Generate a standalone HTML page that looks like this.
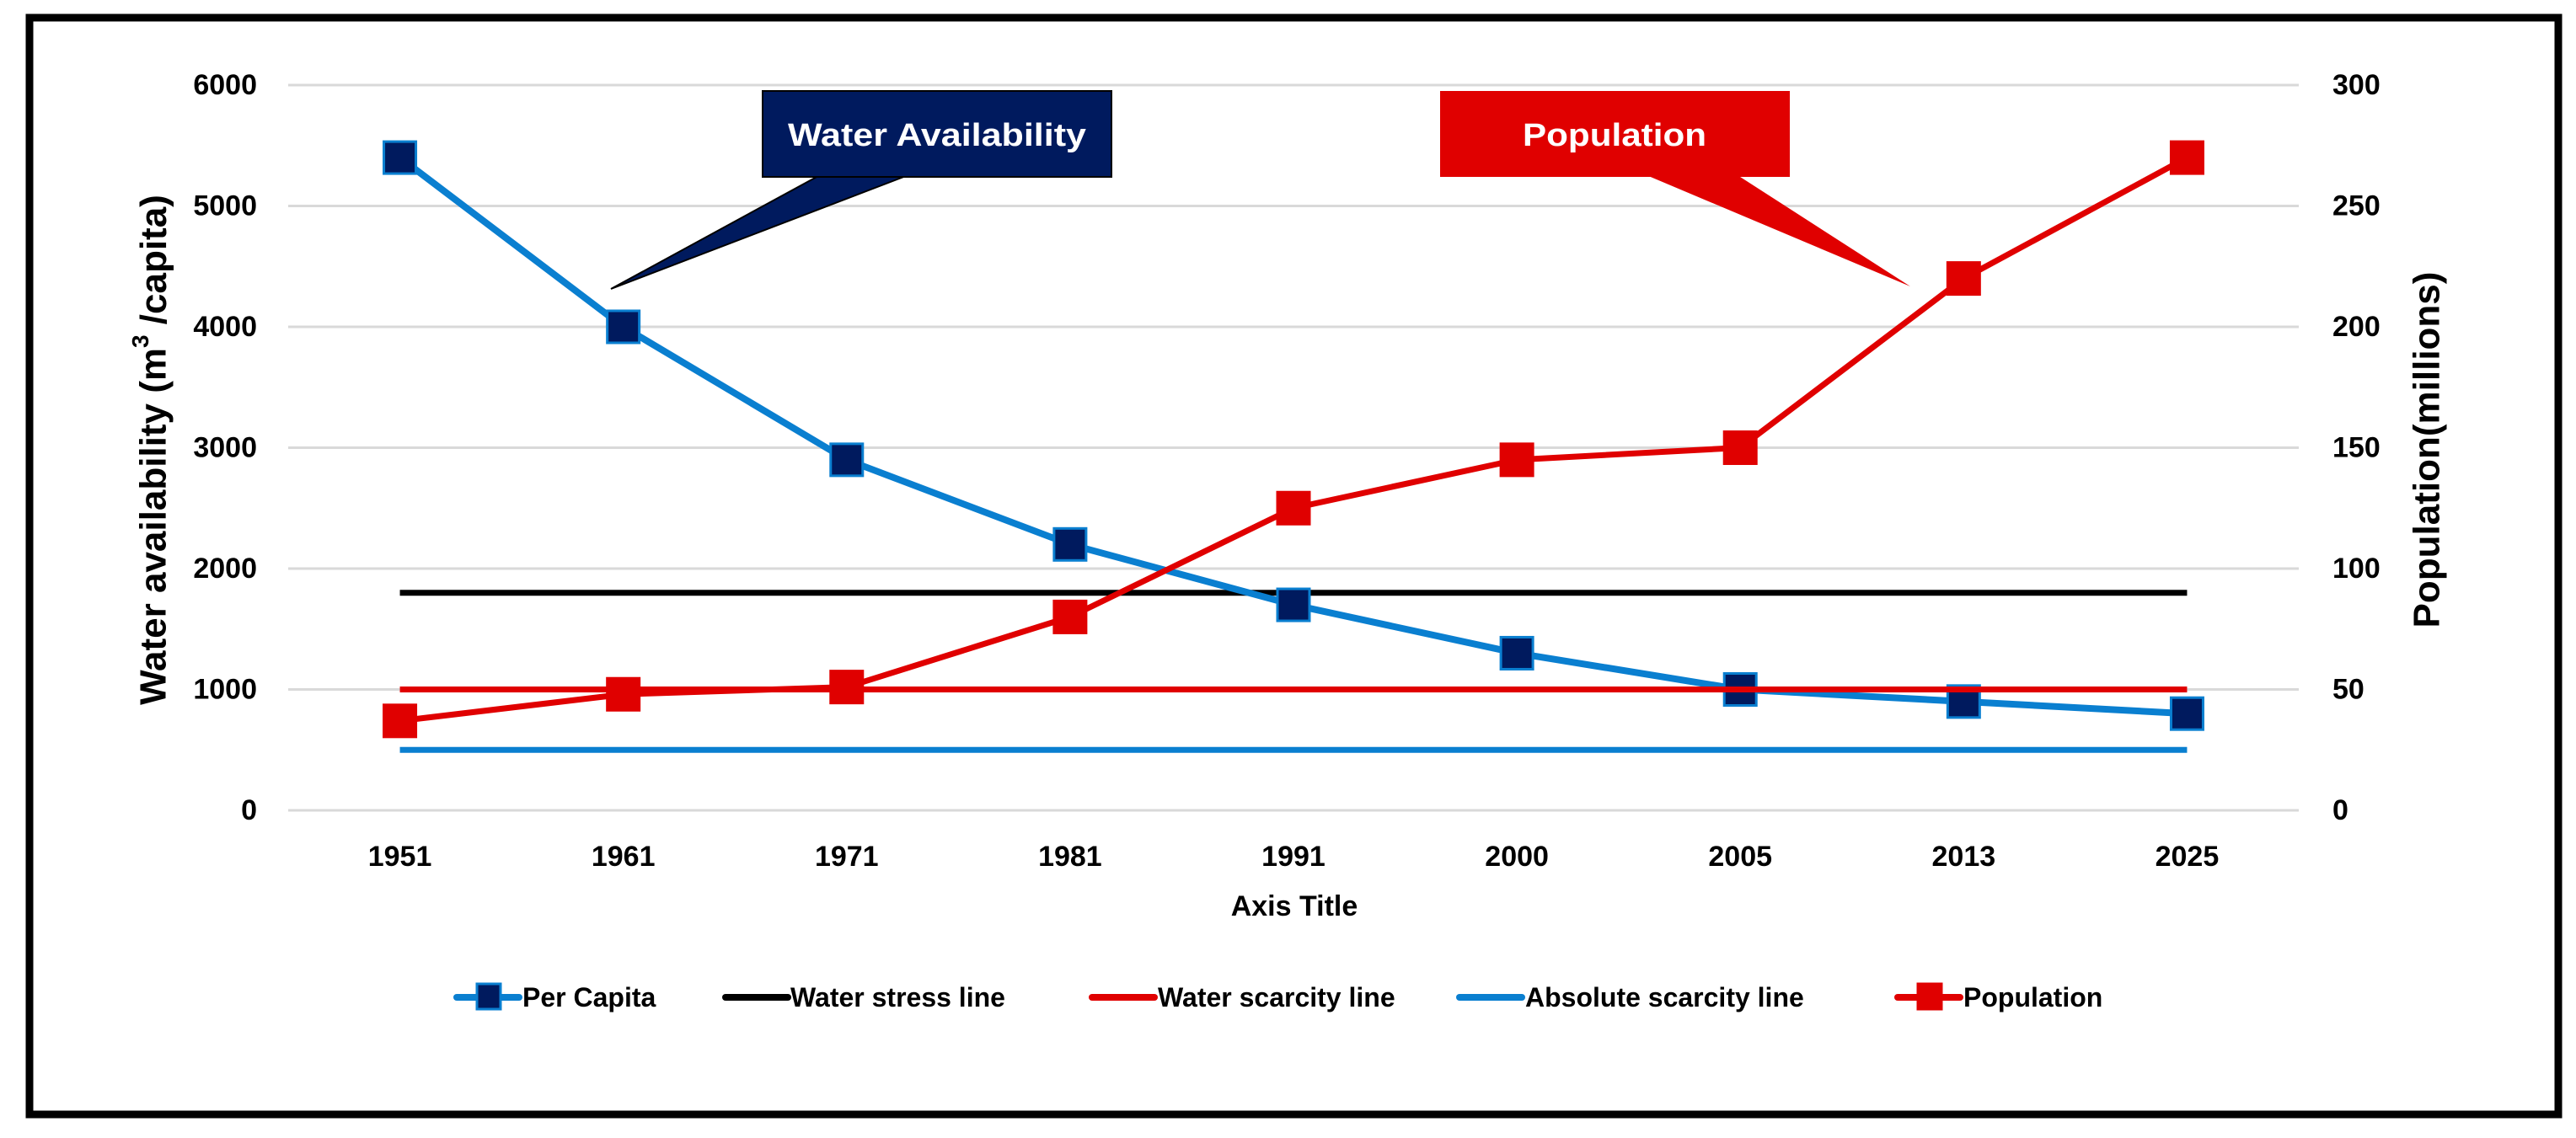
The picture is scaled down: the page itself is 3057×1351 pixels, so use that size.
<!DOCTYPE html>
<html><head><meta charset="utf-8"><style>
html,body{margin:0;padding:0;background:#fff;}
svg{display:block;font-family:"Liberation Sans",sans-serif;}
</style></head><body>
<svg id="chart" width="3057" height="1351" viewBox="0 0 3057 1351">
<rect x="35" y="21" width="3001" height="1302" fill="#fff" stroke="#000" stroke-width="9"/>
<g id="grid"></g>
<g id="lines"></g>
<g id="ticks"></g>
<text x="182" y="534" transform="rotate(-90 182 534)" text-anchor="middle" dominant-baseline="central" font-size="44" font-weight="bold" fill="#000">Water availability (m<tspan font-size="28" dy="-16">3</tspan><tspan dy="16"> /capita)</tspan></text>
<text x="2880" y="534" transform="rotate(-90 2880 534)" text-anchor="middle" dominant-baseline="central" font-size="44" font-weight="bold" fill="#000">Population(millions)</text>
<text x="1536" y="1076" text-anchor="middle" dominant-baseline="central" font-size="34" font-weight="bold" fill="#000">Axis Title</text>
<g>
<polygon points="971,209 725,343 1075,209" fill="#001a5e" stroke="#000" stroke-width="2"/>
<rect x="905" y="108" width="414" height="102" fill="#001a5e" stroke="#000" stroke-width="2"/>
<text x="1112" y="161" text-anchor="middle" dominant-baseline="central" font-size="38" font-weight="bold" fill="#fff" textLength="354" lengthAdjust="spacingAndGlyphs">Water Availability</text>
</g>
<g>
<polygon points="1954,208 2267,340 2062,208" fill="#e00000"/>
<rect x="1709" y="108" width="415" height="102" fill="#e00000"/>
<text x="1916" y="161" text-anchor="middle" dominant-baseline="central" font-size="38" font-weight="bold" fill="#fff" textLength="218" lengthAdjust="spacingAndGlyphs">Population</text>
</g>
<g id="legend"></g>
</svg>
<script>
const categories = ["1951","1961","1971","1981","1991","2000","2005","2013","2025"];
const perCapita = [5400,4000,2900,2200,1700,1300,1000,900,800];
const population = [37,48,51,80,125,145,150,220,270];
const waterStress = [1800,1800,1800,1800,1800,1800,1800,1800,1800];
const waterScarcity = [1000,1000,1000,1000,1000,1000,1000,1000,1000];
const absoluteScarcity = [500,500,500,500,500,500,500,500,500];
const leftTicks = [0,1000,2000,3000,4000,5000,6000];
const rightTicks = [0,50,100,150,200,250,300];

const NS = "http://www.w3.org/2000/svg";
const plotL = 342, plotR = 2728, y0 = 962, yTop = 101;
const step = (plotR - plotL) / categories.length;
const xAt = i => plotL + step * (i + 0.5);
const yL = v => y0 - (v / 6000) * (y0 - yTop);
const yR = v => y0 - (v / 300) * (y0 - yTop);
function mk(tag, attrs, parent) {
  const e = document.createElementNS(NS, tag);
  for (const k in attrs) e.setAttribute(k, attrs[k]);
  parent.appendChild(e);
  return e;
}
const grid = document.getElementById('grid');
const ticks = document.getElementById('ticks');
leftTicks.forEach((t, i) => {
  const l = mk('line', {x1: plotL, x2: plotR, y1: yL(t), y2: yL(t), stroke: '#d9d9d9', 'stroke-width': 3}, grid);
  
  
  const tx = mk('text', {x: 305, y: yL(t), 'text-anchor': 'end', 'dominant-baseline': 'central', 'font-size': 34, 'font-weight': 'bold'}, ticks);
  tx.textContent = t;
  
  
});
rightTicks.forEach(t => {
  const tx = mk('text', {x: 2768, y: yR(t), 'dominant-baseline': 'central', 'font-size': 34, 'font-weight': 'bold'}, ticks);
  tx.textContent = t;
  
  
});
categories.forEach((c, i) => {
  const tx = mk('text', {x: xAt(i), y: 1017, 'text-anchor': 'middle', 'dominant-baseline': 'central', 'font-size': 34, 'font-weight': 'bold'}, ticks);
  tx.textContent = c;
  
  
});
const lines = document.getElementById('lines');
function series(vals, yf, color, width, name, marker) {
  const pts = vals.map((v, i) => xAt(i) + ',' + yf(v)).join(' ');
  const p = mk('polyline', {points: pts, fill: 'none', stroke: color, 'stroke-width': width, 'stroke-linejoin': 'round'}, lines);
  
  
  if (marker) {
    vals.forEach((v, i) => {
      const r = mk('rect', {x: xAt(i) - 19, y: yf(v) - 19, width: 38, height: 38, fill: marker.fill, stroke: marker.stroke, 'stroke-width': 3}, lines);
      
      
    });
  }
}
series(absoluteScarcity, yL, '#0a7fd0', 7, 'absolute-scarcity');
series(waterStress, yL, '#000', 7, 'water-stress');
series(perCapita, yL, '#0a7fd0', 8, 'per-capita', {fill: '#001a5e', stroke: '#0a7fd0'});
series(waterScarcity, yL, '#e00000', 7, 'water-scarcity');
series(population, yR, '#e00000', 7, 'population', {fill: '#e00000', stroke: '#e00000'});

const legend = document.getElementById('legend');
const items = [
  {x: 542, tx: 620, label: 'Per Capita', color: '#0a7fd0', mk: {fill: '#001a5e', stroke: '#0a7fd0'}},
  {x: 861, tx: 938, label: 'Water stress line', color: '#000'},
  {x: 1296, tx: 1374, label: 'Water scarcity line', color: '#e00000'},
  {x: 1732, tx: 1810, label: 'Absolute scarcity line', color: '#0a7fd0'},
  {x: 2252, tx: 2330, label: 'Population', color: '#e00000', mk: {fill: '#e00000', stroke: '#e00000'}}
];
items.forEach(it => {
  const g = mk('g', {}, legend);
  
  
  mk('line', {x1: it.x, x2: it.x + 74, y1: 1184, y2: 1184, stroke: it.color, 'stroke-width': 8, 'stroke-linecap': 'round'}, g);
  if (it.mk) mk('rect', {x: it.x + 24, y: 1168, width: 28, height: 30, fill: it.mk.fill, stroke: it.mk.stroke, 'stroke-width': 3}, g);
  const t = mk('text', {x: it.tx, y: 1184, 'dominant-baseline': 'central', 'font-size': 32, 'font-weight': 'bold'}, g);
  t.textContent = it.label;
});
</script>
</body></html>
